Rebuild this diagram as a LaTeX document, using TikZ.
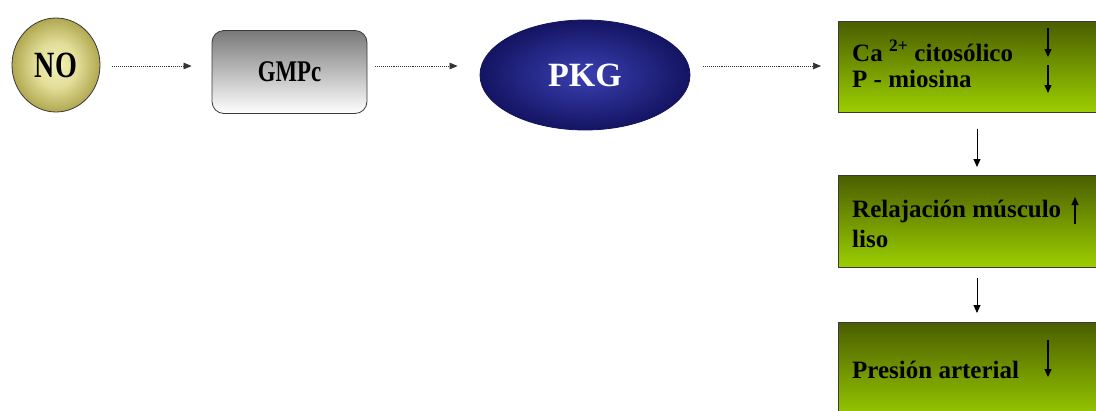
\documentclass[tikz,border=0pt]{standalone}
\usepackage{graphicx}
\usepackage{fontspec}
\setmainfont{Liberation Serif}
\usetikzlibrary{arrows.meta,shapes.geometric,calc}
\definecolor{noin}{HTML}{F4F1B8}
\definecolor{nomid}{HTML}{E2DD98}
\definecolor{noout}{HTML}{B0A850}
\definecolor{pkgin}{HTML}{3A40B2}
\definecolor{pkgout}{HTML}{141462}
\definecolor{gtop}{HTML}{4A5E00}
\definecolor{gbot}{HTML}{9CCF00}
\definecolor{edge}{HTML}{3A3A3A}
\pgfdeclareradialshading{nosoft}{\pgfpoint{0bp}{0bp}}{color(0bp)=(noin); color(12bp)=(nomid); color(25bp)=(noout); color(50bp)=(noout)}
\begin{document}
\begin{tikzpicture}[x=1pt,y=-1pt,
  noshape/.style={ellipse,draw=edge,line width=0.8pt,shading=nosoft,
    minimum width=88pt,minimum height=94pt,inner sep=0pt,font=\bfseries\fontsize{37}{40}\selectfont,text=black},
  gmpshape/.style={rectangle,rounded corners=12pt,draw=edge,line width=0.8pt,top color=gray!95!black,bottom color=white,
    minimum width=155pt,minimum height=83pt,inner sep=0pt,font=\bfseries\fontsize{30}{33}\selectfont},
  pkgshape/.style={ellipse,draw=pkgout,line width=0.8pt,shading=radial,inner color=pkgin,outer color=pkgout,
    minimum width=210pt,minimum height=110pt,inner sep=0pt,font=\bfseries\fontsize{34}{37}\selectfont,text=white},
  gbox/.style={rectangle,draw=edge,line width=1pt,top color=gtop,bottom color=gbot,inner sep=0pt,anchor=north west},
  gtext/.style={anchor=base west,inner sep=0pt,font=\bfseries\fontsize{25}{27}\selectfont},
  dotarr/.style={line width=0.7pt,draw=black!80,dash pattern=on 1pt off 0.9pt,-{Triangle[length=8pt,width=6.5pt]}},
  solarr/.style={line width=0.9pt,-{Triangle[length=8pt,width=7pt]}},
  smallarr/.style={line width=1.3pt,-{Triangle[length=8pt,width=7pt]}}
]
\useasboundingbox (0,0) rectangle (1096,410);
\fill[white] (0,0) rectangle (1096,410);

\node[noshape] (NO) at (56,65) {\scalebox{0.76}[1]{NO}};
\node[gmpshape] (GMPc) at (289.5,72) {\scalebox{0.76}[1]{GMPc}};
\node[pkgshape] (PKG) at (585,75) {PKG};

\node[gbox,minimum width=275pt,minimum height=91pt] (b1) at (838,21) {};
\node[gbox,minimum width=275pt,minimum height=92pt] (b2) at (838,175) {};
\node[gbox,minimum width=275pt,minimum height=100pt] (b3) at (838,322) {};

\node[gtext] (t1) at (852,61) {Ca \textsuperscript{2+} citosólico};
\node[gtext] (t2) at (852,87) {P - miosina};
\node[gtext] (t3) at (852,217) {Relajación músculo};
\node[gtext] (t4) at (852,247) {liso};
\node[gtext] (t5) at (852,378) {Presión arterial};

\coordinate (r) at (0,66);
\draw[dotarr] ($(NO.east|-r)+(12,0)$) -- ($(GMPc.west|-r)+(-20,0)$);
\draw[dotarr] ($(GMPc.east|-r)+(8,0)$) -- ($(PKG.west|-r)+(-22,0)$);
\draw[dotarr] ($(PKG.east|-r)+(13,0)$) -- ($(b1.west|-r)+(-17,0)$);

\draw[solarr] ($(b1.south west)+(139,16)$) -- ($(b2.north west)+(139,-8)$);
\draw[solarr] ($(b2.south west)+(139,10)$) -- ($(b3.north west)+(139,-9)$);

\coordinate (a1s) at (1048,28);  \coordinate (a1e) at (1048,57);
\coordinate (a2s) at (1048,65);  \coordinate (a2e) at (1048,93);
\coordinate (a3s) at (1075,224); \coordinate (a3e) at (1075,197);
\coordinate (a4s) at (1048,340); \coordinate (a4e) at (1048,377);
\draw[smallarr] (a1s) -- (a1e);
\draw[smallarr] (a2s) -- (a2e);
\draw[smallarr] (a3s) -- (a3e);
\draw[smallarr] (a4s) -- (a4e);
\end{tikzpicture}
\end{document}
